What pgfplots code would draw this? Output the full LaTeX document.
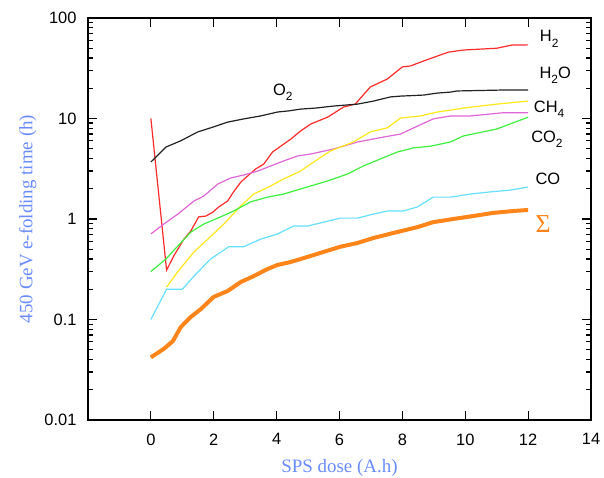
\documentclass[border=0pt]{standalone}
\usepackage{fontspec}
\setmainfont{Liberation Sans}
\newfontfamily\serif{Liberation Serif}
\usepackage{pgfplots}
\pgfplotsset{compat=1.18}
\definecolor{cH}{HTML}{FF2A2A}
\definecolor{cK}{HTML}{222222}
\definecolor{cY}{HTML}{FFE81A}
\definecolor{cM}{HTML}{E066D6}
\definecolor{cG}{HTML}{3CF03C}
\definecolor{cC}{HTML}{66E0FF}
\definecolor{cO}{HTML}{FF8419}
\definecolor{cL}{HTML}{6A8CFF}
\newcommand\sub[1]{\raisebox{-0.6ex}{\fontsize{12}{12}\selectfont #1}}
\begin{document}
\begin{tikzpicture}
\useasboundingbox (-88bp,-58bp) rectangle (516bp,420bp);
\begin{axis}[
  at={(0,0)}, anchor=south west,
  scale only axis, width=503bp, height=402bp,
  xmin=-2, xmax=14, ymode=log, ymin=0.01, ymax=100,
  xtick={0,2,4,6,8,10,12,14},
  xticklabels={0,2,4,6,8,10,12,14},
  ytick={0.01,0.1,1,10,100},
  yticklabels={0.01,0.1,1,10,100},
  minor ytick={0.02,0.03,0.04,0.05,0.06,0.07,0.08,0.09,0.2,0.3,0.4,0.5,0.6,0.7,0.8,0.9,2,3,4,5,6,7,8,9,20,30,40,50,60,70,80,90},
  minor xtick={},
  tick align=inside,
  major tick length=9bp, minor tick length=5bp,
  every tick/.style={black, line width=1.2bp},
  axis line style={black, line width=1.5bp},
  ticklabel style={font=\fontsize{16.5}{18}\selectfont},
  yticklabel style={xshift=-8bp},
  xticklabel style={yshift=-10bp},
  xlabel={\serif SPS dose (A.h)},
  ylabel={\serif 450 GeV e-folding time (h)},
  label style={font=\fontsize{19}{20}\selectfont, text=cL},
  xlabel style={at={(axis description cs:0.5,-0.119)}, anchor=center},
  ylabel style={at={(axis description cs:-0.12,0.5)}, anchor=center},
  clip=false,
  every axis plot/.append style={line width=1.2bp, mark=none},
]
% H2 (red)
\addplot[cH] coordinates {(0,10) (0.5,0.31) (0.73,0.43) (1.05,0.63) (1.27,0.76) (1.52,1.05) (1.75,1.07) (1.97,1.17) (2.16,1.32) (2.44,1.51) (2.63,1.86) (2.86,2.33) (3.08,2.68) (3.33,3.14) (3.59,3.52) (3.87,4.64) (4.13,5.3) (4.44,6.2) (4.76,7.5) (5.08,8.8) (5.62,10.3) (6.13,13.0) (6.5,13.9) (6.98,20.6) (7.52,24.7) (8.0,32.6) (8.25,33.3) (8.67,37.3) (9.11,41.8) (9.46,45.7) (9.94,48) (11.0,50) (11.5,53.9) (12,54)};
% black
\addplot[cK] coordinates {(0,3.69) (0.48,5.2) (0.95,6.0) (1.49,7.35) (1.97,8.2) (2.44,9.2) (2.95,9.9) (3.49,10.6) (4.03,11.6) (4.38,11.9) (4.76,12.4) (5.24,12.7) (5.81,13.3) (6.57,13.9) (7.08,14.9) (7.62,16.4) (7.94,16.7) (8.67,17.1) (9.11,17.9) (9.52,18.3) (9.75,18.8) (11.2,19.2) (12,19.2)};
% magenta
\addplot[cM] coordinates {(0,0.71) (0.41,0.89) (0.86,1.12) (1.37,1.51) (1.68,1.69) (2.13,2.23) (2.54,2.56) (2.95,2.74) (3.4,3.0) (3.81,3.37) (4.22,3.78) (4.67,4.24) (5.08,4.43) (5.81,4.97) (6.57,5.83) (7.4,6.54) (7.94,7.0) (8.48,8.4) (8.98,9.9) (9.52,10.6) (10.16,10.6) (11.2,11.4) (12,11.4)};
% yellow
\addplot[cY] coordinates {(0.5,0.21) (0.86,0.30) (1.37,0.47) (1.81,0.63) (2.32,0.89) (2.86,1.35) (3.27,1.77) (3.81,2.13) (4.22,2.5) (4.76,3.0) (5.08,3.52) (5.71,4.75) (6.44,5.83) (6.98,7.35) (7.52,8.07) (7.94,10.1) (8.57,10.6) (9.11,11.6) (9.52,12.1) (9.94,12.7) (11.0,13.9) (12,14.9)};
% green
\addplot[cG] coordinates {(0,0.30) (0.48,0.40) (0.86,0.54) (1.27,0.74) (1.68,0.89) (2.22,1.05) (2.63,1.2) (3.17,1.48) (3.71,1.65) (4.22,1.77) (4.76,1.99) (5.08,2.13) (5.62,2.39) (6.25,2.8) (6.76,3.37) (7.3,3.96) (7.84,4.64) (8.35,5.1) (8.89,5.3) (9.52,5.83) (9.94,6.7) (11.0,7.86) (12,10.3)};
% cyan
\addplot[cC] coordinates {(0,0.1) (0.5,0.2) (1.0,0.2) (1.37,0.27) (1.9,0.40) (2.48,0.53) (2.95,0.53) (3.49,0.63) (4.03,0.71) (4.54,0.85) (4.98,0.85) (5.49,0.93) (6.03,1.02) (6.57,1.02) (7.08,1.12) (7.52,1.2) (8.03,1.2) (8.48,1.32) (8.98,1.65) (9.52,1.65) (10.16,1.77) (10.79,1.86) (11.43,1.94) (12,2.08)};
% orange sum
\addplot[cO, line width=4bp] coordinates {(0,0.042) (0.41,0.051) (0.7,0.061) (0.95,0.084) (1.27,0.106) (1.59,0.127) (2.0,0.168) (2.44,0.192) (2.86,0.236) (3.27,0.27) (3.71,0.318) (4.03,0.349) (4.44,0.373) (4.98,0.419) (5.49,0.47) (6.03,0.53) (6.57,0.577) (7.08,0.647) (7.71,0.726) (8.48,0.83) (8.98,0.93) (9.62,1.0) (10.25,1.07) (10.89,1.15) (11.52,1.2) (12,1.23)};
\node[font=\fontsize{16.5}{18}\selectfont] at (axis cs:4.2,18.4) {O\sub{2}};
\node[font=\fontsize{16.5}{18}\selectfont] at (axis cs:12.67,62) {H\sub{2}};
\node[font=\fontsize{16.5}{18}\selectfont] at (axis cs:12.86,27) {H\sub{2}O};
\node[font=\fontsize{16.5}{18}\selectfont] at (axis cs:12.67,12.4) {CH\sub{4}};
\node[font=\fontsize{16.5}{18}\selectfont] at (axis cs:12.6,6.25) {CO\sub{2}};
\node[font=\fontsize{16.5}{18}\selectfont] at (axis cs:12.63,2.5) {CO};
\node[font=\fontsize{26}{26}\selectfont\serif, text=cO] at (axis cs:12.48,0.89) {Σ};
\end{axis}
\end{tikzpicture}
\end{document}
